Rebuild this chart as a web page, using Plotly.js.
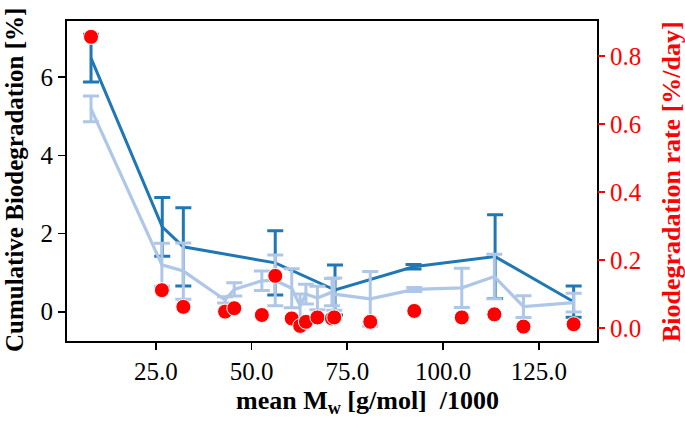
<!DOCTYPE html>
<html>
<head>
<meta charset="utf-8">
<script src="https://cdn.plot.ly/plotly-3.0.1.min.js"></script>
<style>html,body{margin:0;padding:0;background:#fff;}#chart{width:685px;height:421px;}</style>
</head>
<body>
<div id="chart"></div>
<script>
// Dark series: cumulative biodegradation (mean per group)
const darkX = [8.1, 26.7, 32.2, 56.2, 71.8, 92.3, 113.6, 134.1];
const darkY = [6.49, 2.17, 1.66, 1.25, 0.555, 1.15, 1.41, 0.256];
const darkErr = [0.61, 0.75, 1.0, 0.82, 0.64, 0.06, 1.07, 0.4];

// Light series: cumulative biodegradation (individual samples)
const lightX = [8.1, 26.6, 32.2, 43.1, 45.5, 52.7, 56.2, 60.5, 62.7, 64.2, 67.2, 71.0, 71.6, 81.0, 92.5, 104.9, 113.4, 121.0, 134.1];
const lightY = [5.19, 1.2, 1.04, 0.3, 0.57, 0.79, 0.8, 0.6, 0.15, 0.45, 0.35, 0.5, 0.45, 0.33, 0.57, 0.61, 0.9, 0.13, 0.23];
const lightErr = [0.33, 0.55, 0.72, 0.08, 0.17, 0.25, 0.65, 0.5, 0.3, 0.25, 0.3, 0.35, 0.41, 0.7, 0.05, 0.5, 0.57, 0.28, 0.24];

// Red series: biodegradation rate
const rateX = [8.1, 26.6, 32.2, 43.1, 45.5, 52.7, 56.2, 60.5, 62.7, 64.2, 67.2, 71.0, 71.6, 81.0, 92.5, 104.9, 113.4, 121.0, 134.1];
const rateY = [0.856, 0.112, 0.063, 0.049, 0.059, 0.039, 0.154, 0.029, 0.007, 0.019, 0.032, 0.029, 0.032, 0.019, 0.051, 0.032, 0.041, 0.005, 0.012];

const xTicks = [25, 50, 75, 100, 125];
const xTickText = ['25.0', '50.0', '75.0', '100.0', '125.0'];
const yTicks = [0, 2, 4, 6];
const y2Ticks = [0.0, 0.2, 0.4, 0.6, 0.8];
const y2TickText = ['0.0', '0.2', '0.4', '0.6', '0.8'];

const xTitle = 'mean M<sub>w</sub> [g/mol]  /1000';
const yTitle = 'Cumulative Biodegradation [%]';
const y2Title = 'Biodegradation rate [%/day]';

const serif = 'Liberation Serif, Times New Roman, serif';

const traces = [
  {
    x: darkX, y: darkY, type: 'scatter', mode: 'lines',
    line: {color: '#1f77b4', width: 3},
    error_y: {type: 'data', array: darkErr, visible: true, color: '#1f77b4', thickness: 3, width: 8},
    yaxis: 'y', showlegend: false
  },
  {
    x: lightX, y: lightY, type: 'scatter', mode: 'lines',
    line: {color: '#aec7e8', width: 3.2},
    error_y: {type: 'data', array: lightErr, visible: true, color: '#aec7e8', thickness: 3, width: 8},
    yaxis: 'y', showlegend: false
  },
  {
    x: rateX, y: rateY, type: 'scatter', mode: 'markers',
    marker: {color: '#ff0000', size: 15, line: {color: '#ffffff', width: 1}},
    yaxis: 'y2', showlegend: false
  }
];

const layout = {
  width: 685, height: 421,
  margin: {l: 67, r: 88, t: 21, b: 80},
  paper_bgcolor: '#ffffff', plot_bgcolor: '#ffffff',
  font: {family: serif, size: 25, color: '#000'},
  xaxis: {
    range: [1.83, 140.2],
    tickvals: xTicks, ticktext: xTickText,
    showgrid: false, zeroline: false,
    showline: true, mirror: true, linecolor: '#000', linewidth: 2,
    ticks: 'outside', ticklen: 7, tickwidth: 1.6, tickcolor: '#000',
    tickfont: {family: serif, size: 25, color: '#000'}
  },
  yaxis: {
    range: [-0.75, 7.44],
    tickvals: yTicks,
    showgrid: false, zeroline: false,
    showline: true, mirror: true, linecolor: '#000', linewidth: 2,
    ticks: 'outside', ticklen: 7, tickwidth: 1.6, tickcolor: '#000',
    tickfont: {family: serif, size: 25, color: '#000'}
  },
  yaxis2: {
    range: [-0.0373, 0.9025],
    overlaying: 'y', side: 'right',
    tickvals: y2Ticks, ticktext: y2TickText,
    showgrid: false, zeroline: false, showline: false,
    ticks: 'outside', ticklen: 7, tickwidth: 1.6, tickcolor: '#ff0000',
    tickfont: {family: serif, size: 25, color: '#ff0000'}
  },
  annotations: [
    {text: xTitle, xref: 'paper', yref: 'paper', x: 0.567, y: -0.248, xanchor: 'center', yanchor: 'bottom',
     showarrow: false, font: {family: serif, size: 26, color: '#000', weight: 'bold'}},
    {text: yTitle, xref: 'paper', yref: 'paper', x: -0.100, y: 0.503, xanchor: 'center', yanchor: 'middle',
     textangle: -90, showarrow: false, font: {family: serif, size: 25, color: '#000', weight: 'bold'}},
    {text: y2Title, xref: 'paper', yref: 'paper', x: 1.1396, y: 0.50, xanchor: 'center', yanchor: 'middle',
     textangle: -90, showarrow: false, font: {family: serif, size: 26, color: '#ff0000', weight: 'bold'}}
  ]
};

Plotly.newPlot('chart', traces, layout, {displayModeBar: false, staticPlot: true});
</script>
</body>
</html>
